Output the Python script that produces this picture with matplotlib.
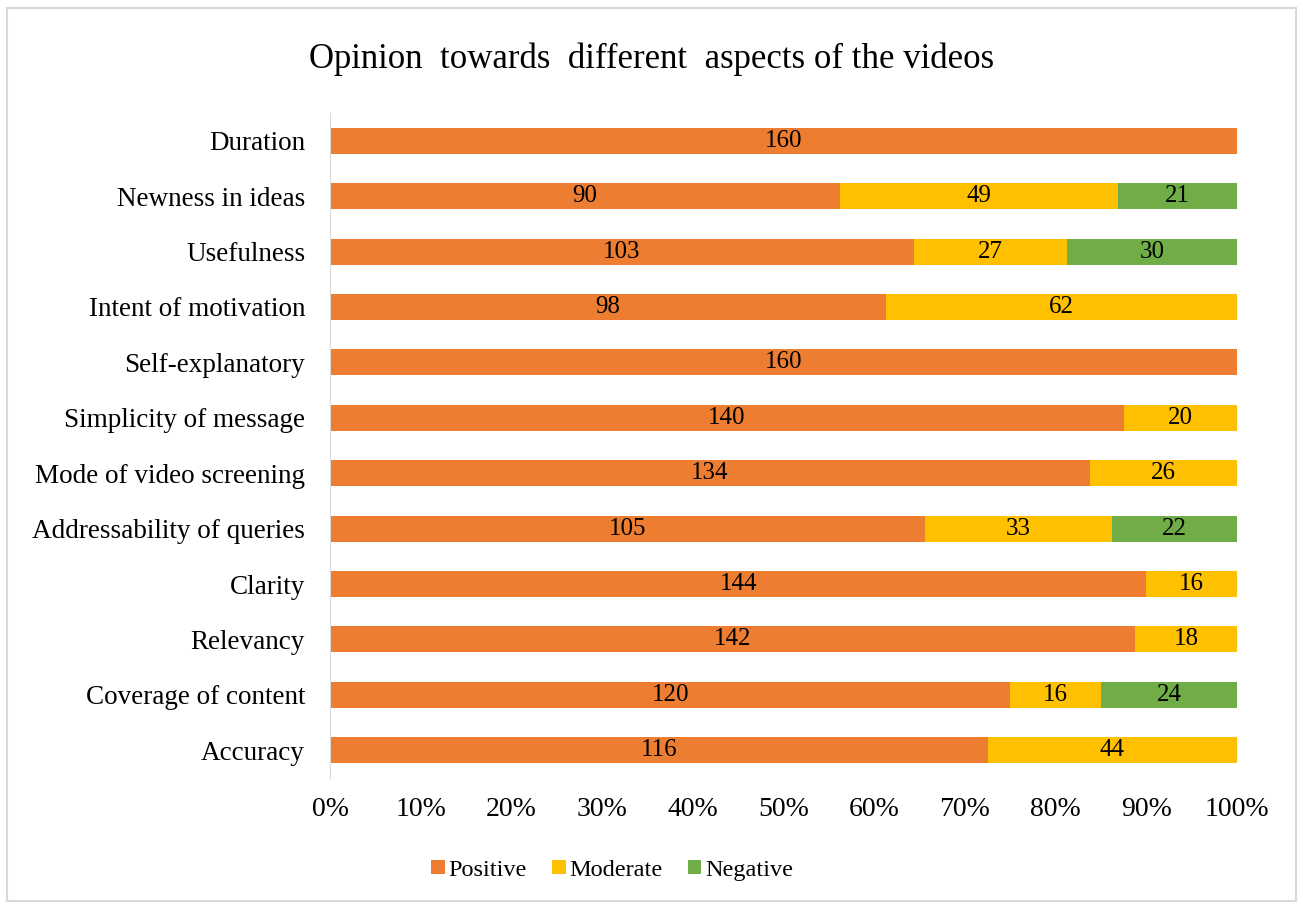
import numpy as np
import matplotlib.pyplot as plt
from matplotlib.patches import Rectangle

plt.rcParams.update({
    "font.family": ["Liberation Serif", "DejaVu Serif"],
    "font.size": 19,
})

# categories listed bottom to top
categories = ["Accuracy", "Coverage of content", "Relevancy", "Clarity",
              "Addressability of queries", "Mode of video screening",
              "Simplicity of message", "Self-explanatory", "Intent of motivation",
              "Usefulness", "Newness in ideas", "Duration"]
positive = [116, 120, 142, 144, 105, 134, 140, 160, 98, 103, 90, 160]
moderate = [44, 16, 18, 16, 33, 26, 20, 0, 62, 27, 49, 0]
negative = [0, 24, 0, 0, 22, 0, 0, 0, 0, 30, 21, 0]
series_names = ["Positive", "Moderate", "Negative"]
colors = ["#ED7D31", "#FFC000", "#70AD47"]

counts = np.array([positive, moderate, negative], dtype=float)
totals = counts.sum(axis=0)
shares = counts / totals * 100

fig = plt.figure(figsize=(13.03, 9.09), dpi=100)
ax = fig.add_axes([0.2533, 0.1441, 0.696, 0.7316])

y = np.arange(len(categories))
left = np.zeros(len(categories))
for i, name in enumerate(series_names):
    bars = ax.barh(y, shares[i], left=left, height=0.47, color=colors[i], label=name)
    labels = ["{:d}".format(int(c)) if c > 0 else "" for c in counts[i]]
    ax.bar_label(bars, labels=labels, label_type="center", fontsize=18, color="#000000")
    left += shares[i]

ax.set_xlim(0, 100)
ax.set_ylim(-0.5, len(categories) - 0.5)
ax.set_yticks(y)
ax.set_yticklabels(categories, fontsize=19.5)
ax.set_xticks(np.arange(0, 101, 10))
ax.set_xticklabels(["{}%".format(v) for v in range(0, 101, 10)], fontsize=20)
ax.tick_params(axis="y", length=0, pad=18)
ax.tick_params(axis="x", length=0, pad=14)
for side in ["top", "right", "bottom"]:
    ax.spines[side].set_visible(False)
ax.spines["left"].set_color("#D9D9D9")

fig.suptitle("Opinion  towards  different  aspects of the videos", fontsize=25, y=0.953)
ax.legend(loc="upper center", bbox_to_anchor=(0.311, -0.09), ncol=3, frameon=False,
          handlelength=0.55, handleheight=0.55, handletextpad=0.15, columnspacing=1.05,
          fontsize=17.5)

fig.patches.append(Rectangle((0.005, 0.009), 0.99, 0.982, transform=fig.transFigure,
                             fill=False, edgecolor="#D9D9D9", linewidth=1.5))

fig.savefig("out.png", dpi=100)
